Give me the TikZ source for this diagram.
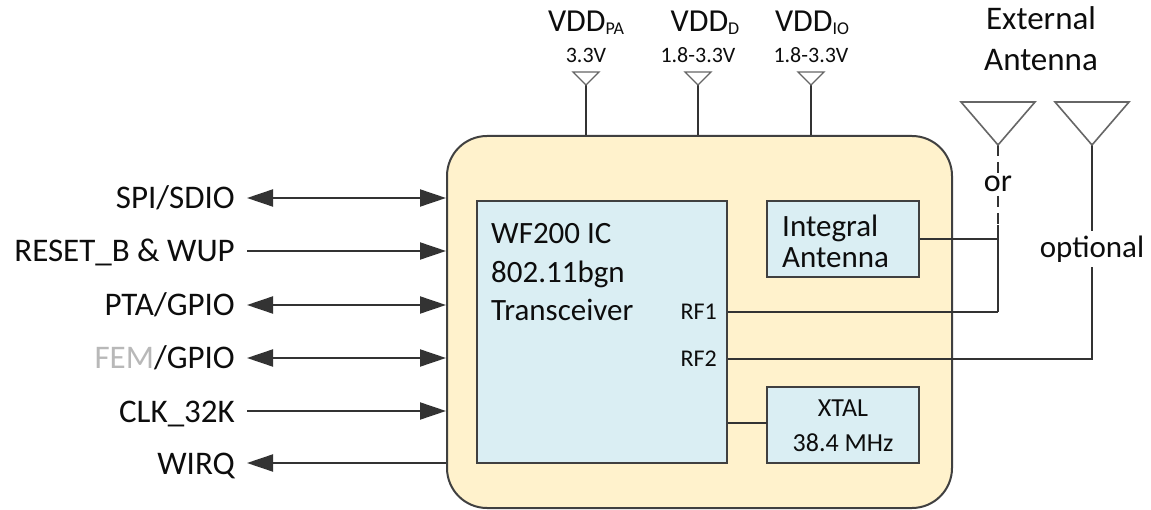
\documentclass[tikz,border=0pt]{standalone}
\usepackage{fontspec}
\setmainfont{Carlito}
\usetikzlibrary{arrows.meta}
\definecolor{lnc}{HTML}{333333}
\definecolor{boxc}{HTML}{404040}
\definecolor{outerfill}{HTML}{FFF2CC}
\definecolor{innerfill}{HTML}{DAEEF3}
\definecolor{txt}{HTML}{0D0D0D}
\definecolor{femc}{HTML}{B8B8B8}
\newcommand{\fs}[1]{\fontsize{#1}{#1}\selectfont}
\tikzset{
  wire/.style={draw=lnc, line width=2pt},
  sig/.style={wire, -{Triangle[length=26pt,width=17pt]}},
  bisig/.style={wire, {Triangle[length=26pt,width=17pt]}-{Triangle[length=26pt,width=17pt]}},
  insig/.style={wire, {Triangle[length=26pt,width=17pt]}-},
  lbl/.style={inner sep=0pt, text=txt, font=\fs{33}, anchor=base east},
  blk/.style={draw=boxc, line width=2pt, fill=innerfill, inner sep=0pt},
  ant/.style={draw=boxc!80, line width=1.6pt, fill=white},
  txtn/.style={inner sep=0pt, text=txt},
}
\begin{document}
\begin{tikzpicture}[x=1pt,y=-1pt]
\useasboundingbox (0,0) rectangle (1151,510);
% module
\node[draw=boxc, line width=2pt, fill=outerfill, rounded corners=40pt, minimum width=505pt, minimum height=372pt, inner sep=0pt] (mod) at (699.5,322) {};
\node[blk, minimum width=250pt, minimum height=262pt] (ic) at (602,332) {};
\node[blk, minimum width=152pt, minimum height=76pt] (ia) at (843,239) {};
\node[blk, minimum width=152pt, minimum height=76pt] (xt) at (843,425) {};
% IC text
\node[txtn, font=\fs{31}, anchor=base west] (t1) at (491,244) {WF200 IC};
\node[txtn, font=\fs{31}, anchor=base west] (t2) at (491,283) {802.11bgn};
\node[txtn, font=\fs{31}, anchor=base west] (t3) at (491,321) {Transceiver};
\node[txtn, font=\fs{24}, anchor=east] (rf1) at (717,312) {RF1};
\node[txtn, font=\fs{24}, anchor=east] (rf2) at (717,359) {RF2};
\node[txtn, font=\fs{31}, anchor=base west] (ia1) at (782,237) {Integral};
\node[txtn, font=\fs{31}, anchor=base west] (ia2) at (782,268) {Antenna};
\node[txtn, font=\fs{26}, anchor=base] (x1) at (843,416) {XTAL};
\node[txtn, font=\fs{26}, anchor=base] (x2) at (843,451) {38.4 MHz};
% left signals
\node[lbl] (l1) at (235,209) {SPI/SDIO};
\node[lbl] (l2) at (235,262) {RESET\_B \& WUP};
\node[lbl] (l3) at (235,316) {PTA/GPIO};
\node[lbl] (l4) at (235,369) {\textcolor{femc}{FEM}/GPIO};
\node[lbl] (l5) at (235,422) {CLK\_32K};
\node[lbl] (l6) at (235,474) {WIRQ};
\coordinate (c1) at (247,198);
\coordinate (c2) at (247,251);
\coordinate (c3) at (247,305);
\coordinate (c4) at (247,358);
\coordinate (c5) at (247,411);
\coordinate (c6) at (247,463);
\draw[bisig] (c1) -- (c1 -| mod.west);
\draw[sig] (c2) -- (c2 -| mod.west);
\draw[bisig] (c3) -- (c3 -| mod.west);
\draw[bisig] (c4) -- (c4 -| mod.west);
\draw[sig] (c5) -- (c5 -| mod.west);
\draw[insig] (c6) -- (c6 -| mod.west);
% supplies
\foreach \n/\x in {pa/586, d/698, io/811}{
  \coordinate (v\n) at (\x,85);
  \draw[wire] (v\n) -- (v\n |- mod.north);
  \draw[ant, line width=1.3pt] (\x-13,72) -- (\x+13,72) -- (v\n) -- cycle;
}
\node[txtn, font=\fs{32}, anchor=base] (vdpa) at (586,32) {VDD{\fs{18}\raisebox{-3pt}{PA}}};
\node[txtn, font=\fs{32}, anchor=base] (vdd) at (705,32) {VDD{\fs{18}\raisebox{-3pt}{D}}};
\node[txtn, font=\fs{32}, anchor=base] (vdio) at (812,32) {VDD{\fs{18}\raisebox{-3pt}{IO}}};
\node[txtn, font=\fs{22}, anchor=base] (u1) at (586,63) {3.3V};
\node[txtn, font=\fs{22}, anchor=base] (u2) at (698,63) {1.8-3.3V};
\node[txtn, font=\fs{22}, anchor=base] (u3) at (811,63) {1.8-3.3V};
% external antennas
\node[txtn, font=\fs{33}, anchor=base] (ea1) at (1041,30) {External};
\node[txtn, font=\fs{33}, anchor=base] (ea2) at (1041,71) {Antenna};
\coordinate (a1) at (998,145);
\coordinate (a2) at (1092,145);
\coordinate (j1) at (998,225);
\coordinate (k1) at (998,239);
\coordinate (m1) at (998,312);
\coordinate (m2) at (1092,359);
\coordinate (xc) at (767,423);
\draw[wire, dash pattern=on 11pt off 6pt] (a1) -- (j1);
\draw[wire] (j1) -- (m1);
\draw[wire] (ia.east) -- (k1);
\draw[wire] (ic.east |- m1) -- (m1);
\draw[wire] (ic.east |- m2) -- (m2) -- (a2);
\draw[wire] (ic.east |- xc) -- (xc);
\draw[ant] (961,102) -- (1035,102) -- (a1) -- cycle;
\draw[ant] (1055,102) -- (1129,102) -- (a2) -- cycle;
\node[txtn, font=\fs{32}, fill=white, inner ysep=3pt, inner xsep=2pt] (or) at (998,184) {or};
\node[txtn, font=\fs{31}, fill=white, inner ysep=5pt, inner xsep=2pt] (opt) at (1092,249) {optional};
\end{tikzpicture}
\end{document}
